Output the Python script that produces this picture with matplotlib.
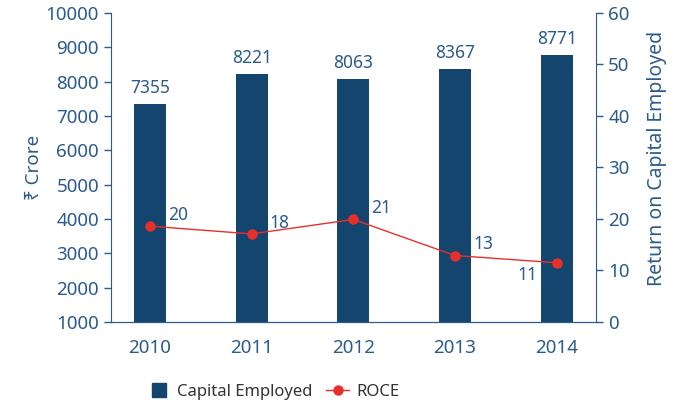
import matplotlib
matplotlib.use("Agg")
import matplotlib.pyplot as plt
from matplotlib.lines import Line2D

plt.rcParams['font.family'] = ['Noto Sans', 'DejaVu Sans']

# Data
years = ["2010", "2011", "2012", "2013", "2014"]
capital_employed = [7355, 8221, 8063, 8367, 8771]
roce = [18.6, 17.1, 19.9, 12.9, 11.5]
roce_labels = ["20", "18", "21", "13", "11"]

blue = "#14456f"
axis_col = "#2b5b8c"
red = "#e8302a"

fig = plt.figure(figsize=(6.8, 4.03), dpi=100)
ax = fig.add_axes([0.163, 0.201, 0.714, 0.767])
ax2 = ax.twinx()

x = list(range(len(years)))
ax.bar(x, capital_employed, width=0.315, color=blue, zorder=2)
for xi, v in zip(x, capital_employed):
    ax.annotate(str(v), (xi, v), xytext=(0, 5), textcoords="offset points",
                ha="center", va="bottom", fontsize=12.5, color=axis_col)

ax.set_ylim(1000, 10000)
ax.set_yticks(range(1000, 10001, 1000))
ax.set_xlim(-0.385, 4.39)
ax.set_xticks(x)
ax.set_xticklabels(years)
ax.set_ylabel("₹ Crore", fontsize=13.5, color=axis_col, labelpad=2)

ax2.plot(x, roce, color=red, lw=1, marker="o", ms=6.5, zorder=3)
for i, (xi, v, lab) in enumerate(zip(x, roce, roce_labels)):
    if i == len(x) - 1:
        ax2.annotate(lab, (xi, v), xytext=(-21, -9), textcoords="offset points",
                     ha="center", va="center", fontsize=12.5, color=axis_col)
    else:
        ax2.annotate(lab, (xi, v), xytext=(13, 8), textcoords="offset points",
                     ha="left", va="center", fontsize=12.5, color=axis_col)
ax2.set_ylim(0, 60)
ax2.set_yticks(range(0, 61, 10))
ax2.set_ylabel("Return on Capital Employed", fontsize=14, color=axis_col)
ax2.yaxis.set_label_coords(1.105, 0.53)

for a in (ax, ax2):
    a.spines["top"].set_visible(False)
    for s in ("left", "right", "bottom"):
        a.spines[s].set_color(axis_col)
    a.tick_params(colors=axis_col, labelsize=13.5, length=5, width=1)
ax.tick_params(axis="x", length=0, pad=12)
ax2.spines["left"].set_visible(False)
ax.spines["right"].set_visible(False)

handles = [Line2D([], [], color=blue, lw=0, marker="s", ms=10),
           Line2D([], [], color=red, lw=1, marker="o", ms=6.5)]
fig.legend(handles, ["Capital Employed", "ROCE"], loc="lower center",
           bbox_to_anchor=(0.402, -0.03), ncol=2, frameon=False, fontsize=12,
           labelcolor="#333333", handlelength=1.4, handletextpad=0.4,
           columnspacing=0.8)

fig.savefig("out.png", dpi=100)
